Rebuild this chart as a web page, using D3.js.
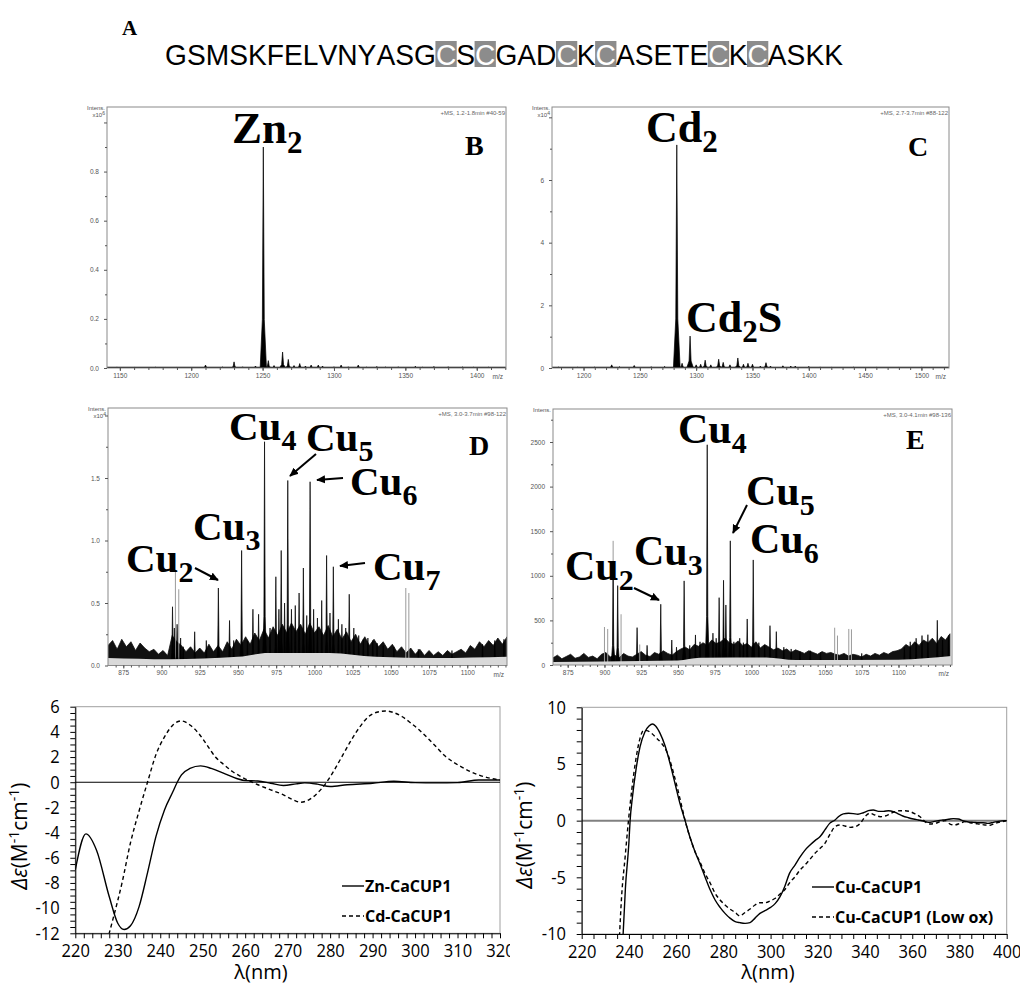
<!DOCTYPE html>
<html><head><meta charset="utf-8">
<script src="https://cdn.jsdelivr.net/npm/d3@7"></script>
<style>body{margin:0;background:#fff}svg{display:block}</style>
</head><body>
<svg id="fig" width="1020" height="985"></svg>
<script>
// ================= DATA =================
const sequence = "GSMSKFELVNYASGCSCGADCKCASETECKCASKK";
const highlightResidue = "C";

// Panel B: Zn-CaCUP1 ESI-MS  [m/z, intensity x10^6]
const bPeaks = [[1148,0.004],[1160,0.003],[1175,0.003],[1190,0.003],[1210,0.012],[1222,0.004],[1230,0.025],[1236,0.005],[1245,0.008],[1250.5,0.90],[1254,0.03],[1258,0.01],[1264,0.065],[1268,0.035],[1272,0.01],[1276,0.018],[1280,0.008],[1284,0.012],[1289,0.012],[1292,0.008],[1300,0.005],[1305,0.012],[1310,0.005],[1317,0.012],[1323,0.004],[1330,0.006],[1336,0.004],[1345,0.005],[1357,0.007],[1362,0.003],[1370,0.006],[1380,0.005],[1390,0.004],[1398,0.004],[1408,0.004]];
const bYTicks = [0,0.2,0.4,0.6,0.8,1.0];
const bXTicks = [1150,1200,1250,1300,1350,1400];

// Panel C: Cd-CaCUP1 ESI-MS  [m/z, intensity x10^4]
const cPeaks = [[1178,0.03],[1195,0.03],[1210,0.03],[1225,0.1],[1232,0.04],[1245,0.08],[1260,0.04],[1272,0.05],[1282.8,7.12],[1287.5,0.15],[1294.6,1.02],[1300,0.1],[1304,0.12],[1308,0.25],[1313,0.1],[1320,0.28],[1324,0.18],[1330,0.1],[1337,0.32],[1342,0.12],[1346,0.15],[1350,0.12],[1357,0.06],[1362,0.17],[1366,0.06],[1377,0.07],[1384,0.06],[1388,0.06],[1400,0.05],[1410,0.03],[1420,0.02],[1440,0.03],[1460,0.02],[1480,0.02],[1500,0.02]];
const cYTicks = [0,2,4,6,8];
const cXTicks = [1200,1250,1300,1350,1400,1450,1500];

// Panel D: Cu-CaCUP1 ESI-MS  [m/z, intensity x10^4]
const dPeaks = [[907.2,0.47],[908.4,0.30],[910.2,0.33],[912.5,0.22],[914.2,0.15],[921.7,0.27],[929.3,0.20],[937.2,0.62],[944.5,0.36],[947.2,0.20],[952.4,0.92],[956.2,0.20],[959.8,0.45],[963.5,0.41],[967.4,1.79],[971.0,0.30],[974.8,0.71],[976.8,0.45],[978.3,0.92],[980.5,0.50],[982.6,1.48],[985.0,0.45],[987.5,0.48],[990.0,0.58],[992.8,0.78],[995.0,0.40],[997.2,1.47],[999.5,0.45],[1002.0,0.38],[1004.8,0.52],[1008.0,0.88],[1010.2,0.42],[1012.4,0.79],[1015.7,0.37],[1018.0,0.33],[1020.5,0.30],[1022.8,0.57],[1025.8,0.30],[1029.0,0.24],[1032.0,0.21],[1035.0,0.22],[1038.2,0.20],[1041,0.18],[1045.0,0.16],[1052.0,0.15],[1068,0.13],[1090,0.12],[1110,0.17],[1118,0.20],[1124,0.21]];
const dGhostPeaks = [[909.1,0.75],[911.3,0.61],[1059.8,0.62],[1061.8,0.58]];
const dNoiseStart = 865, dNoiseStep = 3;
const dNoiseHi = [0.16,0.20,0.13,0.21,0.15,0.19,0.12,0.18,0.14,0.11,
  0.13,0.09,0.12,0.08,0.24,0.19,0.16,0.11,0.15,0.10,
  0.14,0.10,0.17,0.11,0.16,0.11,0.19,0.13,0.21,0.16,
  0.23,0.17,0.26,0.20,0.29,0.22,0.31,0.24,0.33,0.26,
  0.34,0.27,0.33,0.25,0.34,0.26,0.31,0.24,0.32,0.23,
  0.29,0.21,0.27,0.19,0.25,0.17,0.23,0.16,0.21,0.15,
  0.19,0.13,0.17,0.11,0.15,0.10,0.14,0.09,0.13,0.08,
  0.12,0.08,0.11,0.08,0.12,0.09,0.11,0.13,0.10,0.16,
  0.13,0.19,0.15,0.20,0.16,0.22,0.17,0.23];
const dBandMz = [865,905,950,970,1010,1040,1080,1126];
const dBandLo = [0.06,0.05,0.07,0.10,0.10,0.07,0.06,0.07];
const dYTicks = [0,0.5,1.0,1.5,2.0];
const dXTicks = [875,900,925,950,975,1000,1025,1050,1075,1100];

// Panel E: Cu-CaCUP1 ESI-MS  [m/z, intensity]
const ePeaks = [[905.9,1000],[909.0,890],[922.2,419],[929,220],[938.3,681],[945.8,280],[949,200],[954.2,943],[958,220],[961.9,337],[965.0,260],[969.9,2469],[973.8,357],[976.0,300],[978.0,755],[981.0,950],[982.6,673],[985.6,1392],[988.0,260],[992.0,300],[994.5,250],[997.1,516],[1001.2,1178],[1005.0,250],[1009,220],[1012.6,441],[1016.9,374],[1022.0,200],[1027.0,180],[1033.0,150],[1040.0,160],[1047.0,140],[1075.0,130],[1104.0,200],[1108.0,260],[1112.0,300],[1116.0,330],[1120.0,340],[1126.4,501],[1130.0,280],[1134.0,330]];
const eGhostPeaks = [[900,426],[902.2,404],[905.9,1392],[911.3,569],[924,230],[1056.6,418],[1058.5,330],[1066.2,404],[1068,400]];
const eNoiseStart = 865, eNoiseStep = 3;
const eNoiseHi = [80,110,70,95,120,75,90,130,85,100,
  70,120,140,90,110,80,130,100,90,120,
  150,110,95,140,120,160,130,110,150,180,
  200,170,230,210,250,220,280,240,260,300,
  250,230,270,220,240,200,260,190,230,200,
  170,190,160,180,140,170,150,130,160,140,
  120,150,130,140,120,110,130,100,120,110,
  90,120,100,130,110,140,120,150,160,180,
  230,200,260,220,280,250,300,240,320,280,350];
const eBandMz = [865,900,950,965,1010,1030,1100,1136];
const eBandLo = [35,40,50,80,85,55,60,100];
const eYTicks = [0,500,1000,1500,2000,2500];
const eXTicks = [875,900,925,950,975,1000,1025,1050,1075,1100];

// Panel F: CD spectra  (nm, Δε)
const fZnWl = [220,222.5,225,228,230,231.5,233,235,237,239,241,243,244,245,247,249.5,252,255,258,260,263,266,269,272,274,277,280,284,290,295,300,305,310,315,320];
const fZn   = [-6.96,-4.1,-5.4,-9.1,-11.2,-11.7,-11.4,-9.9,-7.2,-4.3,-2.2,-0.74,0,0.58,1.1,1.3,1.1,0.7,0.3,0.13,0.1,-0.08,-0.26,-0.13,-0.05,-0.15,-0.34,-0.2,-0.08,0.08,-0.03,-0.05,-0.03,0.18,0.18];
const fCdWl = [227.5,229,231,233,235,237,239,241,243,245,247,249,251,253,255,257,259,261,263,266,269,271,273,275,277,279,281,283,285,287,289,291,293,295,297,299,301,303,305,307,309,311,313,315,317,320];
const fCd   = [-12.6,-10.7,-8.0,-4.8,-2.3,0,2.2,3.6,4.55,4.87,4.55,3.9,2.96,2.0,1.4,0.85,0.45,0.1,-0.2,-0.6,-1.0,-1.35,-1.59,-1.4,-0.87,-0.08,0.98,2.17,3.36,4.4,5.2,5.56,5.66,5.53,5.2,4.7,4.15,3.5,2.8,2.1,1.6,1.2,0.85,0.58,0.37,0.18];
const fYTicks = [6,4,2,0,-2,-4,-6,-8,-10,-12];
const fXTicks = [220,230,240,250,260,270,280,290,300,310,320];

// Panel G: CD spectra (nm, Δε)
const gCuWl = [237.5,238.5,240,240.5,241.5,243,244.7,246.8,248.5,250,251.3,253.2,255.3,257.4,259.5,261.6,263.8,266,268,270,272.2,274.4,276.5,278.6,280.7,282.8,285,287,289.2,291.3,293.4,295.5,297.6,300,302,304,306,308,310.4,312.5,314.6,316.7,318.8,321,323,325,327.3,328.7,330.8,333,335,337,339.3,341.4,343.5,345.7,347.8,350,352,354,356,358.4,360.5,362.6,364.7,366.8,369,371,373,375.3,377.4,379.5,381.7,383.8,386,388,390,392,394.4,396.5,400];
const gCu   = [-10.2,-6,-1.9,0,2.1,4.5,6.5,7.85,8.35,8.53,8.35,7.7,6.6,5.06,3.3,1.53,0,-1.56,-2.74,-3.76,-4.94,-6.1,-7.0,-7.65,-8.18,-8.6,-8.9,-9.0,-9.06,-9.0,-8.6,-8.18,-7.94,-7.65,-7.3,-6.7,-5.8,-4.65,-3.9,-3.2,-2.6,-2.15,-1.76,-1.4,-0.82,-0.24,0.06,0.35,0.6,0.65,0.62,0.56,0.7,0.88,0.94,0.82,0.82,0.88,0.8,0.6,0.41,0.26,0.15,0.06,-0.03,-0.15,-0.09,0,0.06,0.12,0.18,0.15,-0.03,-0.12,-0.15,-0.18,-0.18,-0.24,-0.15,-0.06,0];
const gLowWl = [236,236.9,238.4,239.8,241.2,242.9,244.7,246.1,247.5,249.6,251.8,253.9,256,258.1,260.2,262.4,263.8,266,268,270,272.2,274.4,276.5,278.6,280.7,282.8,285,287,289.2,291.3,293.4,295.5,297.6,300,302,304,306,308,310.4,312.5,314.6,316.7,318.8,321,323,325,327.3,329.4,331.5,333.7,335.8,338,340,342,344.2,346.4,348.5,350.6,352.7,354.8,357,359,361.2,363.3,365.4,367.5,369.7,371.8,374,376,378,380.2,382.4,384.5,386.6,388.7,390.8,393,395,398,400];
const gLow  = [-10.2,-6.7,-3.2,0,2.7,5.35,7.26,7.94,7.94,7.7,7.26,6.8,6.1,4.8,3.15,1.24,0,-1.56,-2.74,-3.6,-4.65,-5.5,-6.4,-7.0,-7.44,-7.8,-8.1,-8.4,-8.1,-7.8,-7.44,-7.24,-7.24,-7.06,-6.85,-6.47,-6.1,-5.5,-4.94,-4.35,-3.9,-3.4,-2.88,-2.44,-2.0,-1.26,-0.53,-0.38,-0.47,-0.59,-0.53,-0.24,0.35,0.65,0.5,0.35,0.41,0.6,0.8,0.88,0.88,0.8,0.6,0.35,-0.09,-0.3,-0.24,-0.09,0,-0.3,-0.38,-0.24,-0.09,-0.18,-0.24,-0.32,-0.38,-0.41,-0.24,-0.09,0];
const gYTicks = [10,5,0,-5,-10];
const gXTicks = [220,240,260,280,300,320,340,360,380,400];

// ================= DRAWING =================
const svg = d3.select("#fig");
const SERIF = "'Liberation Serif','Times New Roman',serif";
const SANS = "'Liberation Sans',Arial,sans-serif";
const OPEN = "'Open Sans',sans-serif";
const defs = svg.append("defs");
defs.append("marker").attr("id","arr").attr("viewBox","0 0 10 10").attr("refX",9).attr("refY",5)
  .attr("markerWidth",4.5).attr("markerHeight",4.5).attr("orient","auto")
  .append("path").attr("d","M0,0.5 L10,5 L0,9.5 z").attr("fill","#000");

// ---- Panel A ----
svg.append("text").attr("x",122).attr("y",35).attr("font-family",SERIF).attr("font-weight","bold")
  .attr("font-size",21).text("A");
(function(){
  const x0 = 165, x1 = 843, base = 65, fs = 30;
  const tmpG = svg.append("g");
  const widths = Array.from(sequence).map(ch=>{
    const t = tmpG.append("text").attr("font-family",SANS).attr("font-size",fs).text(ch);
    const w = t.node().getComputedTextLength(); t.remove(); return w;
  });
  tmpG.remove();
  const total = d3.sum(widths);
  const sx = (x1-x0)/total;
  const g = svg.append("g").attr("transform",`translate(${x0},${base}) scale(${sx},1)`);
  const pos = d3.cumsum([0,...widths]);
  Array.from(sequence).forEach((ch,i)=>{
    if(ch===highlightResidue){
      g.append("rect").attr("x",pos[i]-0.5).attr("y",-24).attr("width",widths[i]+1).attr("height",26).attr("fill","#8c8c8c");
    }
  });
  Array.from(sequence).forEach((ch,i)=>{
    g.append("text").attr("x",pos[i]).attr("y",0).attr("font-family",SANS).attr("font-size",fs)
      .attr("fill", ch===highlightResidue ? "#fff" : "#000").text(ch);
  });
})();

// ---- MS panels ----
function peakPath(x,y,hw){
  return d=>{
    const m=d[0], h=d[1];
    return `M${x(m-hw)},${y(0)}L${x(m-hw*0.3)},${y(h*0.22)}L${x(m)},${y(h)}L${x(m+hw*0.3)},${y(h*0.22)}L${x(m+hw)},${y(0)}Z`;
  };
}
function msPanel(o){
  const g = svg.append("g");
  const x = d3.scaleLinear().domain(o.xDomain).range([o.x0,o.x1]);
  const y = d3.scaleLinear().domain(o.yDomain).range([o.y1,o.y0]);
  const id = "clip"+o.name;
  defs.append("clipPath").attr("id",id).append("rect").attr("x",o.x0).attr("y",o.y0)
    .attr("width",o.x1-o.x0).attr("height",o.y1-o.y0);
  const c = g.append("g").attr("clip-path",`url(#${id})`);
  if(o.noiseHi){
    const pts = o.noiseHi.map((h,i)=>[o.noiseStart+i*o.noiseStep,h]);
    c.append("path").datum(pts).attr("d",d3.area().x(d=>x(d[0])).y0(y(0)).y1(d=>y(d[1])))
      .attr("fill","#111").attr("stroke","#111").attr("stroke-width",0.8);
  } else {
    c.append("line").attr("x1",o.x0).attr("x2",o.x1).attr("y1",y(0)-0.6).attr("y2",y(0)-0.6)
      .attr("stroke","#000").attr("stroke-width",1.3);
  }
  if(o.ghost){
    c.selectAll(".gh").data(o.ghost).join("line").attr("x1",d=>x(d[0])).attr("x2",d=>x(d[0]))
      .attr("y1",y(0)).attr("y2",d=>y(d[1])).attr("stroke","#9a9a9a").attr("stroke-width",1);
  }
  c.selectAll(".pk").data(o.peaks).join("path").attr("d",peakPath(x,y,o.hw))
    .attr("fill","#000").attr("stroke","#000").attr("stroke-width",0.7).attr("stroke-linejoin","round");
  if(o.bandMz){
    const band = o.bandMz.map((m,i)=>[m,o.bandLo[i]]);
    c.append("path").datum(band).attr("d",d3.area().x(d=>x(d[0])).y0(y(0)).y1(d=>y(d[1])).curve(d3.curveMonotoneX))
      .attr("fill","#d9d9d9");
  }
  // frame
  g.append("rect").attr("x",o.x0).attr("y",o.y0).attr("width",o.x1-o.x0).attr("height",o.y1-o.y0)
    .attr("fill","none").attr("stroke","#8a8a8a").attr("stroke-width",1);
  // axes
  const styleAxis = (sel)=>{
    sel.select(".domain").remove();
    sel.selectAll("line").attr("stroke","#555");
    sel.selectAll("text").attr("font-family",SANS).attr("font-size",6.5).attr("fill","#555");
  };
  const ya = g.append("g").attr("transform",`translate(${o.x0},0)`)
    .call(d3.axisLeft(y).tickValues(o.yTicks).tickSize(3).tickPadding(5)
      .tickFormat(d=> d===o.yTicks[o.yTicks.length-1] && o.hideTop ? "" : o.yFmt(d)));
  styleAxis(ya);
  const ym = g.append("g").attr("transform",`translate(${o.x0},0)`)
    .call(d3.axisLeft(y).tickValues(o.yMinor).tickSize(2).tickFormat(""));
  styleAxis(ym);
  const xa = g.append("g").attr("transform",`translate(0,${o.y1})`)
    .call(d3.axisBottom(x).tickValues(o.xTicks).tickSize(3).tickPadding(2).tickFormat(d3.format("d")));
  styleAxis(xa);
  const xm = g.append("g").attr("transform",`translate(0,${o.y1})`)
    .call(d3.axisBottom(x).tickValues(o.xMinor).tickSize(2).tickFormat(""));
  styleAxis(xm);
  g.append("text").attr("x",o.x1-3).attr("y",o.y1+11).attr("text-anchor","end").attr("font-family",SANS)
    .attr("font-size",6.5).attr("fill","#555").text("m/z");
  // header texts
  g.append("text").attr("x",o.x0-2).attr("y",o.y0+3).attr("text-anchor","end").attr("font-family",SANS)
    .attr("font-size",6).attr("fill","#555").text("Intens.");
  if(o.mult){
    const t = g.append("text").attr("x",o.x0-2).attr("y",o.y0+10).attr("text-anchor","end").attr("font-family",SANS)
      .attr("font-size",6).attr("fill","#555");
    t.append("tspan").text("x10");
    t.append("tspan").attr("dy",-2.5).attr("font-size",5).text(o.mult);
  }
  g.append("text").attr("x",o.x1-1).attr("y",o.y0+8).attr("text-anchor","end").attr("font-family",SANS)
    .attr("font-size",6).attr("fill","#666").text(o.info);
  // panel letter
  g.append("text").attr("x",o.letterX).attr("y",o.letterY).attr("font-family",SERIF).attr("font-weight","bold")
    .attr("font-size",28).text(o.letter);
  // annotations
  (o.labels||[]).forEach(l=>{
    const t = g.append("text").attr("x",l.x).attr("y",l.y).attr("font-family",SERIF).attr("font-weight","bold")
      .attr("font-size",o.lfs);
    t.append("tspan").text(l.a);
    t.append("tspan").attr("dy",o.lsub).attr("font-size",o.sfs).text(l.s);
    if(l.b) t.append("tspan").attr("dy",-o.lsub).attr("font-size",o.lfs).text(l.b);
  });
  (o.arrows||[]).forEach(a=>{
    g.append("line").attr("x1",a[0]).attr("y1",a[1]).attr("x2",a[2]).attr("y2",a[3])
      .attr("stroke","#000").attr("stroke-width",2).attr("marker-end","url(#arr)");
  });
  return {x,y};
}
const rng = (a,b,s)=>d3.range(a,b+s/2,s);

msPanel({name:"B", x0:107,x1:506,y0:107,y1:368, xDomain:[1141,1420.5], yDomain:[0,1.063],
  peaks:bPeaks, hw:2.2, yTicks:bYTicks, yMinor:rng(0.1,0.9,0.2), yFmt:d3.format(".1f"), hideTop:true,
  xTicks:bXTicks, xMinor:rng(1150,1420,10), mult:"6", info:"+MS, 1.2-1.8min #40-59",
  letter:"B", letterX:465, letterY:155, lfs:45, sfs:31, lsub:10,
  labels:[{a:"Zn",s:"2",x:232,y:143}]});

msPanel({name:"C", x0:552,x1:949,y0:107,y1:368, xDomain:[1172,1524.5], yDomain:[0,8.33],
  peaks:cPeaks, hw:3, yTicks:cYTicks, yMinor:[1,3,5,7], yFmt:d3.format("d"), hideTop:true,
  xTicks:cXTicks, xMinor:rng(1180,1520,10), mult:"4", info:"+MS, 2.7-3.7min #88-122",
  letter:"C", letterX:908, letterY:155.5, lfs:44, sfs:31, lsub:10,
  labels:[{a:"Cd",s:"2",x:646,y:141.5},{a:"Cd",s:"2",b:"S",x:686,y:331.5}]});

msPanel({name:"D", x0:108,x1:507,y0:408,y1:665.5, xDomain:[865,1126], yDomain:[0,2.06],
  peaks:dPeaks, ghost:dGhostPeaks, hw:1.4, noiseHi:dNoiseHi, noiseStart:dNoiseStart, noiseStep:dNoiseStep,
  bandMz:dBandMz, bandLo:dBandLo,
  yTicks:dYTicks, yMinor:[0.25,0.75,1.25,1.75], yFmt:d3.format(".1f"), hideTop:true,
  xTicks:dXTicks, xMinor:rng(870,1125,5), mult:"4", info:"+MS, 3.0-3.7min #98-122",
  letter:"D", letterX:469, letterY:455, lfs:41, sfs:30, lsub:10,
  labels:[{a:"Cu",s:"4",x:229,y:440},{a:"Cu",s:"5",x:306,y:451},{a:"Cu",s:"6",x:350,y:495},
          {a:"Cu",s:"3",x:193,y:540},{a:"Cu",s:"2",x:126,y:571.5},{a:"Cu",s:"7",x:373,y:580}],
  arrows:[[316,454,290,476],[343,478,317,480],[195,568,218,580],[365,563,340,566]]});

msPanel({name:"E", x0:553,x1:952,y0:409,y1:665, xDomain:[865,1136.4], yDomain:[0,2870],
  peaks:ePeaks, ghost:eGhostPeaks, hw:1.4, noiseHi:eNoiseHi, noiseStart:eNoiseStart, noiseStep:eNoiseStep,
  bandMz:eBandMz, bandLo:eBandLo,
  yTicks:eYTicks, yMinor:rng(250,2750,500), yFmt:d3.format("d"), hideTop:false,
  xTicks:eXTicks, xMinor:rng(870,1135,5), mult:null, info:"+MS, 3.0-4.1min #98-136",
  letter:"E", letterX:906, letterY:449, lfs:42, sfs:30, lsub:10,
  labels:[{a:"Cu",s:"4",x:678,y:443},{a:"Cu",s:"5",x:746,y:505},{a:"Cu",s:"6",x:750,y:553},
          {a:"Cu",s:"3",x:634,y:565},{a:"Cu",s:"2",x:565,y:580}],
  arrows:[[747,505,733,533],[634,588,659,600]]});

// ---- CD panels ----
function cdPanel(o){
  const g = svg.append("g");
  if(o.clipRight){
    defs.append("clipPath").attr("id","clipAll"+o.name).append("rect").attr("x",0).attr("y",680).attr("width",o.clipRight).attr("height",310);
    g.attr("clip-path",`url(#clipAll${o.name})`);
  }
  const x = d3.scaleLinear().domain(o.xDomain).range([o.x0,o.x1]);
  const y = d3.scaleLinear().domain(o.yDomain).range([o.y1,o.y0]);
  g.append("rect").attr("x",o.x0).attr("y",o.y0).attr("width",o.x1-o.x0).attr("height",o.y1-o.y0)
    .attr("fill","none").attr("stroke","#a0a0a0").attr("stroke-width",1);
  g.append("line").attr("x1",o.x0).attr("x2",o.x1).attr("y1",y(0)).attr("y2",y(0))
    .attr("stroke",o.zeroColor).attr("stroke-width",o.zeroW);
  const id = "clip"+o.name;
  defs.append("clipPath").attr("id",id).append("rect").attr("x",o.x0).attr("y",o.y0)
    .attr("width",o.x1-o.x0).attr("height",o.y1-o.y0);
  const c = g.append("g").attr("clip-path",`url(#${id})`);
  o.series.forEach(s=>{
    c.append("path").datum(s.wl.map((w,i)=>[w,s.v[i]]))
      .attr("d",d3.line().x(d=>x(d[0])).y(d=>y(d[1])).curve(d3.curveMonotoneX))
      .attr("fill","none").attr("stroke","#000").attr("stroke-width",1.4).attr("stroke-dasharray",s.dash);
  });
  const style = sel=>{
    sel.select(".domain").attr("stroke","#000");
    sel.selectAll("line").attr("stroke","#000");
    sel.selectAll("text").attr("font-family",OPEN).attr("font-size",18).attr("fill","#000")
      .attr("transform","scale(0.92,1)");
  };
  const ya = g.append("g").attr("transform",`translate(${o.x0},0)`)
    .call(d3.axisLeft(y).tickValues(o.yTicks).tickSize(5).tickSizeOuter(0).tickPadding(12).tickFormat(d=>String(d)));
  style(ya);
  const ym = g.append("g").attr("transform",`translate(${o.x0},0)`)
    .call(d3.axisLeft(y).tickValues(o.yMinor).tickSize(5).tickSizeOuter(0).tickFormat(""));
  style(ym); ym.select(".domain").remove();
  const xa = g.append("g").attr("transform",`translate(0,${o.y1})`)
    .call(d3.axisBottom(x).tickValues(o.xTicks).tickSize(5).tickSizeOuter(0).tickPadding(6).tickFormat(d=>String(d)));
  style(xa);
  const xm = g.append("g").attr("transform",`translate(0,${o.y1})`)
    .call(d3.axisBottom(x).tickValues(o.xMinor).tickSize(5).tickSizeOuter(0).tickFormat(""));
  style(xm); xm.select(".domain").remove();
  // axis titles
  const yt = g.append("text").attr("transform",`translate(${o.ytX},${o.ytY}) rotate(-90)`).attr("text-anchor","middle")
    .attr("font-family",OPEN).attr("font-size",21);
  yt.append("tspan").attr("font-style","italic").text("Δε");
  yt.append("tspan").text("(M");
  yt.append("tspan").attr("font-size",14).attr("dy",-8).text("-1");
  yt.append("tspan").attr("dy",8).text("cm");
  yt.append("tspan").attr("font-size",14).attr("dy",-8).text("-1");
  yt.append("tspan").attr("dy",8).text(")");
  g.append("text").attr("x",o.xtX).attr("y",979).attr("text-anchor","middle").attr("font-family",OPEN)
    .attr("font-size",20).text("λ(nm)");
  // panel letter
  g.append("text").attr("x",o.letterX).attr("y",743).attr("font-family",SERIF).attr("font-weight","bold")
    .attr("font-size",31).text(o.letter);
  // legend
  o.series.forEach((s,i)=>{
    const ly = o.legY + i*30;
    g.append("line").attr("x1",o.legX).attr("x2",o.legX+22).attr("y1",ly).attr("y2",ly)
      .attr("stroke","#000").attr("stroke-width",1.4).attr("stroke-dasharray",s.dash);
    g.append("text").attr("x",o.legX+23).attr("y",ly+6).attr("font-family",OPEN).attr("font-weight","bold")
      .attr("font-size",16).text(s.name);
  });
}

cdPanel({name:"F", x0:75.3,x1:500,y0:706.7,y1:933.3, xDomain:[220,320], yDomain:[-12,6], clipRight:510,
  zeroColor:"#000", zeroW:1.2, yTicks:fYTicks, yMinor:rng(-12,6,0.5).filter(v=>Math.abs(v%2)>0.01),
  xTicks:fXTicks, xMinor:rng(222,318,2).filter(v=>v%10!==0),
  series:[{name:"Zn-CaCUP1", wl:fZnWl, v:fZn, dash:null},{name:"Cd-CaCUP1", wl:fCdWl, v:fCd, dash:"4,3"}],
  ytX:27, ytY:836, xtX:261, letterX:461, legX:342, legY:886});

cdPanel({name:"G", x0:581.7,x1:1006.7,y0:707.3,y1:934, xDomain:[220,400], yDomain:[-10,10],
  zeroColor:"#808080", zeroW:2, yTicks:gYTicks, yMinor:rng(-9,9,1).filter(v=>v%5!==0),
  xTicks:gXTicks, xMinor:rng(225,395,5).filter(v=>v%20!==0),
  series:[{name:"Cu-CaCUP1", wl:gCuWl, v:gCu, dash:null},{name:"Cu-CaCUP1 (Low ox)", wl:gLowWl, v:gLow, dash:"4,3"}],
  ytX:532, ytY:835, xtX:768, letterX:970, legX:812, legY:887});
</script>
</body></html>
